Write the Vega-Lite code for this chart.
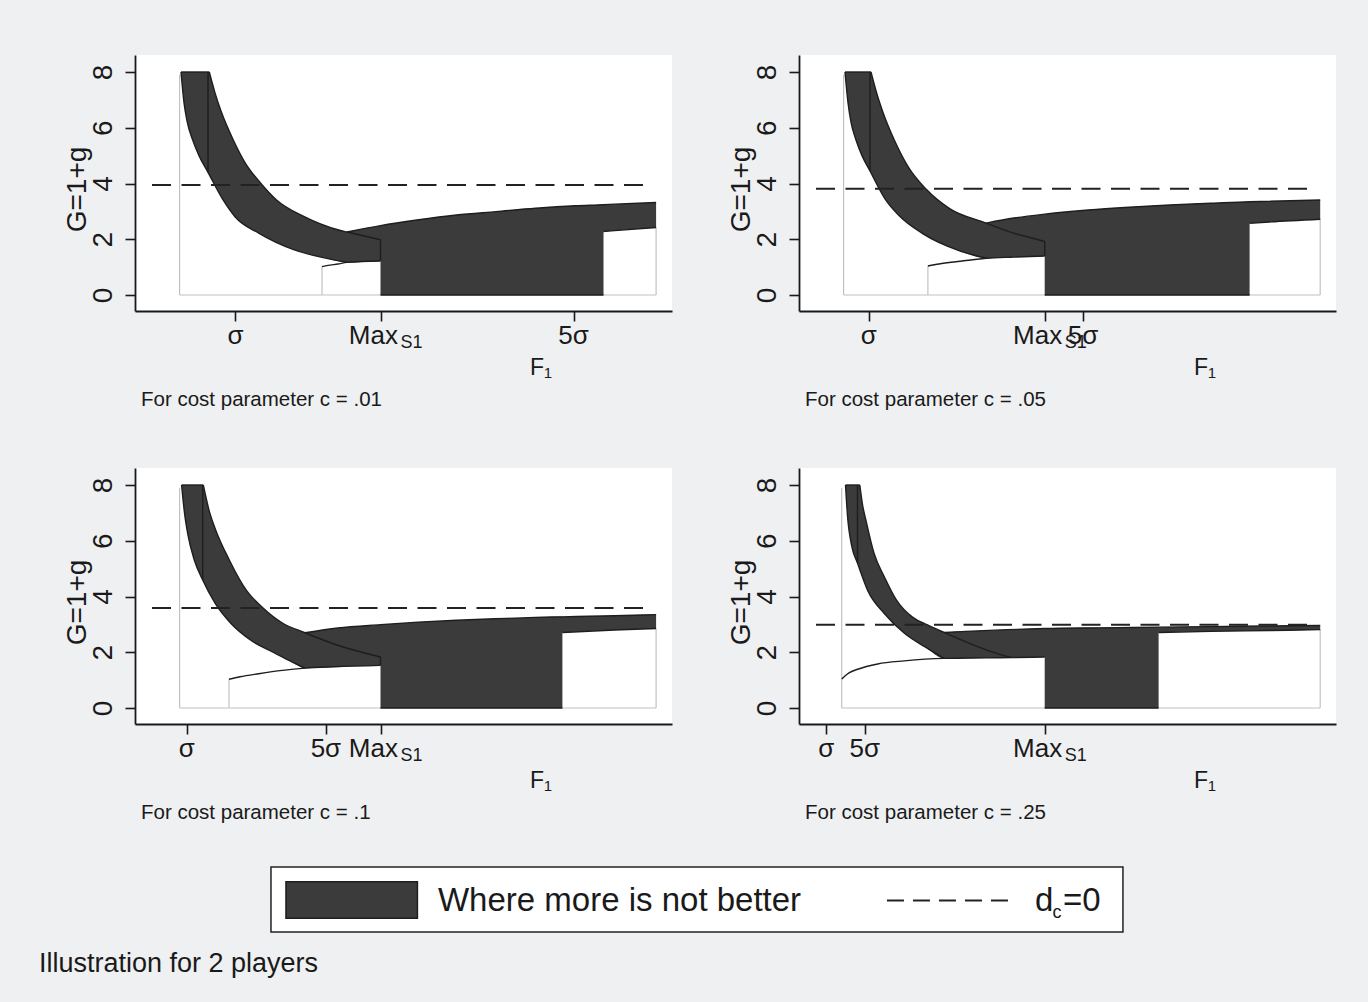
{
"$schema": "https://vega.github.io/schema/vega-lite/v6.json",
"background": "#eff0f2",
"padding": {"left": 38, "top": 55, "right": 40, "bottom": 20},
"autosize": {"type": "pad"},
"bounds": "flush",
"columns": 2,
"spacing": {"row": 157, "column": 127},
"datasets": {
"seg": [
{"p":"a","k":"gray","x":44.6,"y":0,"x2":44.6,"y2":7.9},
{"p":"a","k":"gray","x":44.6,"y":0,"x2":521.1,"y2":0},
{"p":"a","k":"gray","x":187,"y":0,"x2":187,"y2":1.02},
{"p":"a","k":"gray","x":521.1,"y":0,"x2":521.1,"y2":2.42},
{"p":"a","k":"dark","x":73,"y":4.4,"x2":73,"y2":8},
{"p":"a","k":"dark","x":46,"y":8,"x2":74.3,"y2":8},
{"p":"a","k":"dark","x":245.5,"y":1.22,"x2":245.5,"y2":1.98},
{"p":"a","k":"dark","x":245.5,"y":0,"x2":468.5,"y2":0},
{"p":"a","k":"dash","x":17,"y":3.95,"x2":516,"y2":3.95},
{"p":"b","k":"gray","x":44.6,"y":0,"x2":44.6,"y2":7.9},
{"p":"b","k":"gray","x":44.6,"y":0,"x2":521.2,"y2":0},
{"p":"b","k":"gray","x":128.9,"y":0,"x2":128.9,"y2":1.04},
{"p":"b","k":"gray","x":521.2,"y":0,"x2":521.2,"y2":2.72},
{"p":"b","k":"dark","x":71,"y":4.45,"x2":71,"y2":8},
{"p":"b","k":"dark","x":46,"y":8,"x2":72,"y2":8},
{"p":"b","k":"dark","x":245.7,"y":1.4,"x2":245.7,"y2":1.92},
{"p":"b","k":"dark","x":245.7,"y":0,"x2":450.6,"y2":0},
{"p":"b","k":"dash","x":17,"y":3.81,"x2":516,"y2":3.81},
{"p":"c","k":"gray","x":44.6,"y":0,"x2":44.6,"y2":7.9},
{"p":"c","k":"gray","x":44.6,"y":0,"x2":521.1,"y2":0},
{"p":"c","k":"gray","x":94,"y":0,"x2":94,"y2":1.03},
{"p":"c","k":"gray","x":521.1,"y":0,"x2":521.1,"y2":2.85},
{"p":"c","k":"dark","x":67.7,"y":4.59,"x2":67.7,"y2":8},
{"p":"c","k":"dark","x":46.6,"y":8,"x2":68.3,"y2":8},
{"p":"c","k":"dark","x":245.5,"y":1.53,"x2":245.5,"y2":1.83},
{"p":"c","k":"dark","x":245.5,"y":0,"x2":427.4,"y2":0},
{"p":"c","k":"dash","x":17,"y":3.59,"x2":516,"y2":3.59},
{"p":"d","k":"gray","x":42.7,"y":0,"x2":42.7,"y2":7.9},
{"p":"d","k":"gray","x":42.7,"y":0,"x2":521.2,"y2":0},
{"p":"d","k":"gray","x":521.2,"y":0,"x2":521.2,"y2":2.81},
{"p":"d","k":"dark","x":58.5,"y":5.2,"x2":58.5,"y2":8},
{"p":"d","k":"dark","x":46.5,"y":8,"x2":60.8,"y2":8},
{"p":"d","k":"dark","x":245.7,"y":0,"x2":359.6,"y2":0},
{"p":"d","k":"dash","x":17,"y":2.99,"x2":516,"y2":2.99}
],
"area": [
{"p":"a","k":"dec","x":46,"y":8},{"p":"a","k":"dec","x":49,"y":6.9},{"p":"a","k":"dec","x":52,"y":6.25},{"p":"a","k":"dec","x":57.7,"y":5.56},{"p":"a","k":"dec","x":64,"y":5.0},{"p":"a","k":"dec","x":73,"y":4.4},{"p":"a","k":"dec","x":88.1,"y":3.41},{"p":"a","k":"dec","x":100,"y":2.81},{"p":"a","k":"dec","x":123.7,"y":2.22},{"p":"a","k":"dec","x":159.3,"y":1.62},{"p":"a","k":"dec","x":187,"y":1.35},{"p":"a","k":"dec","x":212,"y":1.17},{"p":"a","k":"dec","x":245.5,"y":1.22},
{"p":"a","k":"mask","x":74.3,"y":8},{"p":"a","k":"mask","x":80,"y":7.25},{"p":"a","k":"mask","x":86,"y":6.6},{"p":"a","k":"mask","x":98.3,"y":5.56},{"p":"a","k":"mask","x":110,"y":4.75},{"p":"a","k":"mask","x":125.7,"y":4.01},{"p":"a","k":"mask","x":141.5,"y":3.41},{"p":"a","k":"mask","x":169.2,"y":2.81},{"p":"a","k":"mask","x":202.8,"y":2.34},{"p":"a","k":"mask","x":212,"y":2.26},{"p":"a","k":"mask","x":245.5,"y":1.98},{"p":"a","k":"mask","x":249,"y":1.95},
{"p":"a","k":"rise","x":212,"y":1.17,"y2":2.26},{"p":"a","k":"rise","x":245.5,"y":1.22,"y2":2.49},{"p":"a","k":"rise","x":281.9,"y":1.5,"y2":2.69},{"p":"a","k":"rise","x":321.4,"y":1.75,"y2":2.87},{"p":"a","k":"rise","x":361,"y":1.95,"y2":2.99},{"p":"a","k":"rise","x":400.5,"y":2.1,"y2":3.11},{"p":"a","k":"rise","x":440,"y":2.21,"y2":3.2},{"p":"a","k":"rise","x":468.5,"y":2.28,"y2":3.24},{"p":"a","k":"rise","x":479.6,"y":2.31,"y2":3.26},{"p":"a","k":"rise","x":521.1,"y":2.42,"y2":3.32},
{"p":"a","k":"block","x":245.5,"y":0,"y2":2.49},{"p":"a","k":"block","x":281.9,"y":0,"y2":2.69},{"p":"a","k":"block","x":321.4,"y":0,"y2":2.87},{"p":"a","k":"block","x":361,"y":0,"y2":2.99},{"p":"a","k":"block","x":400.5,"y":0,"y2":3.11},{"p":"a","k":"block","x":440,"y":0,"y2":3.2},{"p":"a","k":"block","x":468.5,"y":0,"y2":3.24},
{"p":"b","k":"dec","x":46,"y":8},{"p":"b","k":"dec","x":49,"y":6.9},{"p":"b","k":"dec","x":52,"y":6.2},{"p":"b","k":"dec","x":57,"y":5.56},{"p":"b","k":"dec","x":63,"y":5.0},{"p":"b","k":"dec","x":71,"y":4.45},{"p":"b","k":"dec","x":86,"y":3.45},{"p":"b","k":"dec","x":100,"y":2.85},{"p":"b","k":"dec","x":123.7,"y":2.2},{"p":"b","k":"dec","x":159.3,"y":1.6},{"p":"b","k":"dec","x":187.3,"y":1.32},{"p":"b","k":"dec","x":215,"y":1.36},{"p":"b","k":"dec","x":245.7,"y":1.4},
{"p":"b","k":"mask","x":72,"y":8},{"p":"b","k":"mask","x":78,"y":7.2},{"p":"b","k":"mask","x":84,"y":6.55},{"p":"b","k":"mask","x":95.3,"y":5.56},{"p":"b","k":"mask","x":110,"y":4.55},{"p":"b","k":"mask","x":127,"y":3.8},{"p":"b","k":"mask","x":150.6,"y":3.1},{"p":"b","k":"mask","x":187.3,"y":2.58},{"p":"b","k":"mask","x":207.7,"y":2.3},{"p":"b","k":"mask","x":245.7,"y":1.92},{"p":"b","k":"mask","x":249,"y":1.89},
{"p":"b","k":"rise","x":187.3,"y":1.32,"y2":2.58},{"p":"b","k":"rise","x":215,"y":1.36,"y2":2.76},{"p":"b","k":"rise","x":245.7,"y":1.4,"y2":2.9},{"p":"b","k":"rise","x":289.3,"y":1.8,"y2":3.05},{"p":"b","k":"rise","x":330.2,"y":2.1,"y2":3.15},{"p":"b","k":"rise","x":371,"y":2.3,"y2":3.23},{"p":"b","k":"rise","x":411.8,"y":2.45,"y2":3.29},{"p":"b","k":"rise","x":450.6,"y":2.57,"y2":3.345},{"p":"b","k":"rise","x":470,"y":2.62,"y2":3.36},{"p":"b","k":"rise","x":521.2,"y":2.72,"y2":3.41},
{"p":"b","k":"block","x":245.7,"y":0,"y2":2.9},{"p":"b","k":"block","x":289.3,"y":0,"y2":3.05},{"p":"b","k":"block","x":330.2,"y":0,"y2":3.15},{"p":"b","k":"block","x":371,"y":0,"y2":3.23},{"p":"b","k":"block","x":411.8,"y":0,"y2":3.29},{"p":"b","k":"block","x":450.6,"y":0,"y2":3.345},
{"p":"c","k":"dec","x":46.6,"y":8},{"p":"c","k":"dec","x":49.5,"y":7.0},{"p":"c","k":"dec","x":53,"y":6.2},{"p":"c","k":"dec","x":59.3,"y":5.31},{"p":"c","k":"dec","x":67.7,"y":4.59},{"p":"c","k":"dec","x":80.2,"y":3.75},{"p":"c","k":"dec","x":96,"y":3.03},{"p":"c","k":"dec","x":115.8,"y":2.43},{"p":"c","k":"dec","x":139.5,"y":1.98},{"p":"c","k":"dec","x":155,"y":1.69},{"p":"c","k":"dec","x":170,"y":1.43},{"p":"c","k":"dec","x":200,"y":1.48},{"p":"c","k":"dec","x":245.5,"y":1.53},
{"p":"c","k":"mask","x":68.3,"y":8},{"p":"c","k":"mask","x":74,"y":7.1},{"p":"c","k":"mask","x":80,"y":6.45},{"p":"c","k":"mask","x":94.3,"y":5.31},{"p":"c","k":"mask","x":111.8,"y":4.2},{"p":"c","k":"mask","x":128,"y":3.59},{"p":"c","k":"mask","x":147.4,"y":3.05},{"p":"c","k":"mask","x":170,"y":2.7},{"p":"c","k":"mask","x":202.8,"y":2.25},{"p":"c","k":"mask","x":245.5,"y":1.83},{"p":"c","k":"mask","x":249,"y":1.8},
{"p":"c","k":"rise","x":170,"y":1.43,"y2":2.7},{"p":"c","k":"rise","x":202.8,"y":1.48,"y2":2.87},{"p":"c","k":"rise","x":245.5,"y":1.53,"y2":2.99},{"p":"c","k":"rise","x":283,"y":1.9,"y2":3.08},{"p":"c","k":"rise","x":321.4,"y":2.2,"y2":3.15},{"p":"c","k":"rise","x":360,"y":2.45,"y2":3.2},{"p":"c","k":"rise","x":400.5,"y":2.62,"y2":3.25},{"p":"c","k":"rise","x":427.4,"y":2.71,"y2":3.27},{"p":"c","k":"rise","x":479.6,"y":2.8,"y2":3.31},{"p":"c","k":"rise","x":521.1,"y":2.85,"y2":3.35},
{"p":"c","k":"block","x":245.5,"y":0,"y2":2.99},{"p":"c","k":"block","x":283,"y":0,"y2":3.08},{"p":"c","k":"block","x":321.4,"y":0,"y2":3.15},{"p":"c","k":"block","x":360,"y":0,"y2":3.2},{"p":"c","k":"block","x":400.5,"y":0,"y2":3.25},{"p":"c","k":"block","x":427.4,"y":0,"y2":3.27},
{"p":"d","k":"dec","x":46.5,"y":8},{"p":"d","k":"dec","x":48.5,"y":6.9},{"p":"d","k":"dec","x":52.8,"y":5.8},{"p":"d","k":"dec","x":58.5,"y":5.2},{"p":"d","k":"dec","x":68.9,"y":4.2},{"p":"d","k":"dec","x":85.3,"y":3.39},{"p":"d","k":"dec","x":105.7,"y":2.67},{"p":"d","k":"dec","x":126.1,"y":2.19},{"p":"d","k":"dec","x":145,"y":1.78},{"p":"d","k":"dec","x":166.9,"y":1.79},{"p":"d","k":"dec","x":187.3,"y":1.8},{"p":"d","k":"dec","x":212,"y":1.81},
{"p":"d","k":"mask","x":60.8,"y":8},{"p":"d","k":"mask","x":63.5,"y":7.3},{"p":"d","k":"mask","x":66.9,"y":6.74},{"p":"d","k":"mask","x":75.1,"y":5.54},{"p":"d","k":"mask","x":85.3,"y":4.71},{"p":"d","k":"mask","x":97.5,"y":3.87},{"p":"d","k":"mask","x":113.8,"y":3.25},{"p":"d","k":"mask","x":129,"y":2.97},{"p":"d","k":"mask","x":145,"y":2.71},{"p":"d","k":"mask","x":166.9,"y":2.37},{"p":"d","k":"mask","x":190,"y":2.05},{"p":"d","k":"mask","x":212,"y":1.81},{"p":"d","k":"mask","x":215.5,"y":1.78},
{"p":"d","k":"rise","x":145,"y":1.78,"y2":2.71},{"p":"d","k":"rise","x":166.9,"y":1.79,"y2":2.75},{"p":"d","k":"rise","x":207.7,"y":1.81,"y2":2.81},{"p":"d","k":"rise","x":245.7,"y":1.83,"y2":2.85},{"p":"d","k":"rise","x":300,"y":2.3,"y2":2.875},{"p":"d","k":"rise","x":359.6,"y":2.71,"y2":2.9},{"p":"d","k":"rise","x":411.8,"y":2.75,"y2":2.92},{"p":"d","k":"rise","x":470,"y":2.78,"y2":2.94},{"p":"d","k":"rise","x":521.2,"y":2.81,"y2":2.96},
{"p":"d","k":"block","x":245.7,"y":0,"y2":2.85},{"p":"d","k":"block","x":300,"y":0,"y2":2.875},{"p":"d","k":"block","x":359.6,"y":0,"y2":2.9}
],
"line": [
{"p":"a","k":"U","x":74.3,"y":8},{"p":"a","k":"U","x":80,"y":7.25},{"p":"a","k":"U","x":86,"y":6.6},{"p":"a","k":"U","x":98.3,"y":5.56},{"p":"a","k":"U","x":110,"y":4.75},{"p":"a","k":"U","x":125.7,"y":4.01},{"p":"a","k":"U","x":141.5,"y":3.41},{"p":"a","k":"U","x":169.2,"y":2.81},{"p":"a","k":"U","x":202.8,"y":2.34},{"p":"a","k":"U","x":212,"y":2.26},{"p":"a","k":"U","x":245.5,"y":1.98},
{"p":"a","k":"L","x":46,"y":8},{"p":"a","k":"L","x":49,"y":6.9},{"p":"a","k":"L","x":52,"y":6.25},{"p":"a","k":"L","x":57.7,"y":5.56},{"p":"a","k":"L","x":64,"y":5.0},{"p":"a","k":"L","x":73,"y":4.4},{"p":"a","k":"L","x":88.1,"y":3.41},{"p":"a","k":"L","x":100,"y":2.81},{"p":"a","k":"L","x":123.7,"y":2.22},{"p":"a","k":"L","x":159.3,"y":1.62},{"p":"a","k":"L","x":187,"y":1.35},{"p":"a","k":"L","x":212,"y":1.17},
{"p":"a","k":"RL1","x":187,"y":1.02},{"p":"a","k":"RL1","x":195,"y":1.07},{"p":"a","k":"RL1","x":202.8,"y":1.11},{"p":"a","k":"RL1","x":212,"y":1.17},{"p":"a","k":"RL1","x":245.5,"y":1.22},
{"p":"a","k":"RL2","x":468.5,"y":2.28},{"p":"a","k":"RL2","x":479.6,"y":2.31},{"p":"a","k":"RL2","x":521.1,"y":2.42},
{"p":"a","k":"RU","x":212,"y":2.26},{"p":"a","k":"RU","x":245.5,"y":2.49},{"p":"a","k":"RU","x":281.9,"y":2.69},{"p":"a","k":"RU","x":321.4,"y":2.87},{"p":"a","k":"RU","x":361,"y":2.99},{"p":"a","k":"RU","x":400.5,"y":3.11},{"p":"a","k":"RU","x":440,"y":3.2},{"p":"a","k":"RU","x":468.5,"y":3.24},{"p":"a","k":"RU","x":479.6,"y":3.26},{"p":"a","k":"RU","x":521.1,"y":3.32},
{"p":"b","k":"U","x":72,"y":8},{"p":"b","k":"U","x":78,"y":7.2},{"p":"b","k":"U","x":84,"y":6.55},{"p":"b","k":"U","x":95.3,"y":5.56},{"p":"b","k":"U","x":110,"y":4.55},{"p":"b","k":"U","x":127,"y":3.8},{"p":"b","k":"U","x":150.6,"y":3.1},{"p":"b","k":"U","x":187.3,"y":2.58},{"p":"b","k":"U","x":207.7,"y":2.3},{"p":"b","k":"U","x":245.7,"y":1.92},
{"p":"b","k":"L","x":46,"y":8},{"p":"b","k":"L","x":49,"y":6.9},{"p":"b","k":"L","x":52,"y":6.2},{"p":"b","k":"L","x":57,"y":5.56},{"p":"b","k":"L","x":63,"y":5.0},{"p":"b","k":"L","x":71,"y":4.45},{"p":"b","k":"L","x":86,"y":3.45},{"p":"b","k":"L","x":100,"y":2.85},{"p":"b","k":"L","x":123.7,"y":2.2},{"p":"b","k":"L","x":159.3,"y":1.6},{"p":"b","k":"L","x":187.3,"y":1.32},
{"p":"b","k":"RL1","x":128.9,"y":1.04},{"p":"b","k":"RL1","x":140,"y":1.11},{"p":"b","k":"RL1","x":158.7,"y":1.2},{"p":"b","k":"RL1","x":187.3,"y":1.32},{"p":"b","k":"RL1","x":215,"y":1.36},{"p":"b","k":"RL1","x":245.7,"y":1.4},
{"p":"b","k":"RL2","x":450.6,"y":2.57},{"p":"b","k":"RL2","x":470,"y":2.62},{"p":"b","k":"RL2","x":521.2,"y":2.72},
{"p":"b","k":"RU","x":187.3,"y":2.58},{"p":"b","k":"RU","x":215,"y":2.76},{"p":"b","k":"RU","x":245.7,"y":2.9},{"p":"b","k":"RU","x":289.3,"y":3.05},{"p":"b","k":"RU","x":330.2,"y":3.15},{"p":"b","k":"RU","x":371,"y":3.23},{"p":"b","k":"RU","x":411.8,"y":3.29},{"p":"b","k":"RU","x":450.6,"y":3.345},{"p":"b","k":"RU","x":470,"y":3.36},{"p":"b","k":"RU","x":521.2,"y":3.41},
{"p":"c","k":"U","x":68.3,"y":8},{"p":"c","k":"U","x":74,"y":7.1},{"p":"c","k":"U","x":80,"y":6.45},{"p":"c","k":"U","x":94.3,"y":5.31},{"p":"c","k":"U","x":111.8,"y":4.2},{"p":"c","k":"U","x":128,"y":3.59},{"p":"c","k":"U","x":147.4,"y":3.05},{"p":"c","k":"U","x":170,"y":2.7},{"p":"c","k":"U","x":202.8,"y":2.25},{"p":"c","k":"U","x":245.5,"y":1.83},
{"p":"c","k":"L","x":46.6,"y":8},{"p":"c","k":"L","x":49.5,"y":7.0},{"p":"c","k":"L","x":53,"y":6.2},{"p":"c","k":"L","x":59.3,"y":5.31},{"p":"c","k":"L","x":67.7,"y":4.59},{"p":"c","k":"L","x":80.2,"y":3.75},{"p":"c","k":"L","x":96,"y":3.03},{"p":"c","k":"L","x":115.8,"y":2.43},{"p":"c","k":"L","x":139.5,"y":1.98},{"p":"c","k":"L","x":155,"y":1.69},{"p":"c","k":"L","x":170,"y":1.43},
{"p":"c","k":"RL1","x":94,"y":1.03},{"p":"c","k":"RL1","x":105,"y":1.12},{"p":"c","k":"RL1","x":123.7,"y":1.23},{"p":"c","k":"RL1","x":147.4,"y":1.35},{"p":"c","k":"RL1","x":170,"y":1.43},{"p":"c","k":"RL1","x":200,"y":1.48},{"p":"c","k":"RL1","x":245.5,"y":1.53},
{"p":"c","k":"RL2","x":427.4,"y":2.71},{"p":"c","k":"RL2","x":479.6,"y":2.8},{"p":"c","k":"RL2","x":521.1,"y":2.85},
{"p":"c","k":"RU","x":170,"y":2.7},{"p":"c","k":"RU","x":202.8,"y":2.87},{"p":"c","k":"RU","x":245.5,"y":2.99},{"p":"c","k":"RU","x":283,"y":3.08},{"p":"c","k":"RU","x":321.4,"y":3.15},{"p":"c","k":"RU","x":360,"y":3.2},{"p":"c","k":"RU","x":400.5,"y":3.25},{"p":"c","k":"RU","x":427.4,"y":3.27},{"p":"c","k":"RU","x":479.6,"y":3.31},{"p":"c","k":"RU","x":521.1,"y":3.35},
{"p":"d","k":"U","x":60.8,"y":8},{"p":"d","k":"U","x":63.5,"y":7.3},{"p":"d","k":"U","x":66.9,"y":6.74},{"p":"d","k":"U","x":75.1,"y":5.54},{"p":"d","k":"U","x":85.3,"y":4.71},{"p":"d","k":"U","x":97.5,"y":3.87},{"p":"d","k":"U","x":113.8,"y":3.25},{"p":"d","k":"U","x":129,"y":2.97},{"p":"d","k":"U","x":145,"y":2.71},{"p":"d","k":"U","x":166.9,"y":2.37},{"p":"d","k":"U","x":190,"y":2.05},{"p":"d","k":"U","x":212,"y":1.81},
{"p":"d","k":"L","x":46.5,"y":8},{"p":"d","k":"L","x":48.5,"y":6.9},{"p":"d","k":"L","x":52.8,"y":5.8},{"p":"d","k":"L","x":58.5,"y":5.2},{"p":"d","k":"L","x":68.9,"y":4.2},{"p":"d","k":"L","x":85.3,"y":3.39},{"p":"d","k":"L","x":105.7,"y":2.67},{"p":"d","k":"L","x":126.1,"y":2.19},{"p":"d","k":"L","x":145,"y":1.78},
{"p":"d","k":"RL1","x":42.7,"y":1.04},{"p":"d","k":"RL1","x":46,"y":1.15},{"p":"d","k":"RL1","x":50,"y":1.26},{"p":"d","k":"RL1","x":58.7,"y":1.39},{"p":"d","k":"RL1","x":78.7,"y":1.58},{"p":"d","k":"RL1","x":105.3,"y":1.69},{"p":"d","k":"RL1","x":145,"y":1.78},{"p":"d","k":"RL1","x":187.3,"y":1.8},{"p":"d","k":"RL1","x":212,"y":1.81},{"p":"d","k":"RL1","x":245.7,"y":1.83},
{"p":"d","k":"RL2","x":359.6,"y":2.71},{"p":"d","k":"RL2","x":411.8,"y":2.75},{"p":"d","k":"RL2","x":470,"y":2.78},{"p":"d","k":"RL2","x":521.2,"y":2.81},
{"p":"d","k":"RU","x":145,"y":2.71},{"p":"d","k":"RU","x":166.9,"y":2.75},{"p":"d","k":"RU","x":207.7,"y":2.81},{"p":"d","k":"RU","x":245.7,"y":2.85},{"p":"d","k":"RU","x":300,"y":2.875},{"p":"d","k":"RU","x":359.6,"y":2.9},{"p":"d","k":"RU","x":411.8,"y":2.92},{"p":"d","k":"RU","x":470,"y":2.94},{"p":"d","k":"RU","x":521.2,"y":2.96}
],
"lab": [
{"p":"a","k":"tick","t":"σ","x":100.4,"y":-1.77},{"p":"a","k":"tick","t":"Max","x":238.4,"y":-1.77},{"p":"a","k":"tick","t":"5σ","x":438.5,"y":-1.77},{"p":"a","k":"sub","t":"S1","x":276.5,"y":-1.9},{"p":"a","k":"F","t":"F","x":402,"y":-2.87},{"p":"a","k":"fs","t":"1","x":413,"y":-2.98},{"p":"a","k":"cap","t":"For cost parameter c = .01","x":6,"y":-4.0},
{"p":"b","k":"tick","t":"σ","x":69.8,"y":-1.77},{"p":"b","k":"tick","t":"Max","x":238.6,"y":-1.77},{"p":"b","k":"tick","t":"5σ","x":284,"y":-1.77},{"p":"b","k":"sub","t":"S1","x":276.7,"y":-1.9},{"p":"b","k":"F","t":"F","x":402,"y":-2.87},{"p":"b","k":"fs","t":"1","x":413,"y":-2.98},{"p":"b","k":"cap","t":"For cost parameter c = .05","x":6,"y":-4.0},
{"p":"c","k":"tick","t":"σ","x":51.7,"y":-1.77},{"p":"c","k":"tick","t":"Max","x":238.4,"y":-1.77},{"p":"c","k":"tick","t":"5σ","x":190.9,"y":-1.77},{"p":"c","k":"sub","t":"S1","x":276.5,"y":-1.9},{"p":"c","k":"F","t":"F","x":402,"y":-2.87},{"p":"c","k":"fs","t":"1","x":413,"y":-2.98},{"p":"c","k":"cap","t":"For cost parameter c = .1","x":6,"y":-4.0},
{"p":"d","k":"tick","t":"σ","x":27.3,"y":-1.77},{"p":"d","k":"tick","t":"Max","x":238.6,"y":-1.77},{"p":"d","k":"tick","t":"5σ","x":65.7,"y":-1.77},{"p":"d","k":"sub","t":"S1","x":276.7,"y":-1.9},{"p":"d","k":"F","t":"F","x":402,"y":-2.87},{"p":"d","k":"fs","t":"1","x":413,"y":-2.98},{"p":"d","k":"cap","t":"For cost parameter c = .25","x":6,"y":-4.0}
],
"leg": [
{"k":"box","x":0,"x2":1,"y":0,"y2":1},
{"k":"sw","x":0.0176,"x2":0.1719,"y":0.226,"y2":0.789},
{"k":"dash","x":0.723,"x2":0.873,"y":0.515,"y2":0.515},
{"k":"big","t":"Where more is not better","x":0.196,"y":0.677},
{"k":"big","t":"d","x":0.8967,"y":0.677},
{"k":"big","t":"=0","x":0.9296,"y":0.677},
{"k":"small","t":"c","x":0.9173,"y":0.785},
{"k":"ill","t":"Illustration for 2 players","x":-0.2723,"y":1.615}
]
},
"concat": [
{"width":537,"height":256,
 "encoding":{"x":{"field":"x","type":"quantitative","scale":{"domain":[0,537],"nice":false,"zero":false},"axis":{"values":[100.4,245.5,438.5],"labels":false,"title":null,"tickSize":10,"grid":false}},
  "y":{"field":"y","type":"quantitative","scale":{"domain":[-0.574,8.61],"nice":false,"zero":false},"axis":{"values":[0,2,4,6,8],"title":"G=1+g","grid":false,"tickSize":10,"labelAngle":270,"labelAlign":"center","labelBaseline":"alphabetic","labelPadding":14,"titleAngle":270,"titleAlign":"center","titleBaseline":"alphabetic","titleX":-50,"titleY":134}}},
 "layer":[
{"data":{"name":"seg"},"transform":[{"filter":"datum.p=='a' && datum.k=='gray'"}],"mark":{"type":"rule","color":"#c2c2c2","strokeWidth":1.2},"encoding":{"x2":{"field":"x2"},"y2":{"field":"y2"}}},
{"data":{"name":"area"},"transform":[{"filter":"datum.p=='a' && datum.k=='dec'"}],"mark":{"type":"area","interpolate":"monotone","color":"#3b3b3b"},"encoding":{"y2":{"datum":8}}},
{"data":{"name":"area"},"transform":[{"filter":"datum.p=='a' && datum.k=='mask'"}],"mark":{"type":"area","interpolate":"monotone","color":"white"},"encoding":{"y2":{"datum":8.61}}},
{"data":{"name":"area"},"transform":[{"filter":"datum.p=='a' && (datum.k=='rise' || datum.k=='block')"}],"mark":{"type":"area","interpolate":"monotone","color":"#3b3b3b"},"encoding":{"y2":{"field":"y2"},"detail":{"field":"k"}}},
{"data":{"name":"line"},"transform":[{"filter":"datum.p=='a'"}],"mark":{"type":"line","interpolate":"monotone","color":"#1e1e1e","strokeWidth":1.4},"encoding":{"detail":{"field":"k"}}},
{"data":{"name":"seg"},"transform":[{"filter":"datum.p=='a' && datum.k=='dark'"}],"mark":{"type":"rule","color":"#1e1e1e","strokeWidth":1.4},"encoding":{"x2":{"field":"x2"},"y2":{"field":"y2"}}},
{"data":{"name":"seg"},"transform":[{"filter":"datum.p=='a' && datum.k=='dash'"}],"mark":{"type":"rule","color":"#222222","strokeWidth":2,"strokeDash":[19,10.5]},"encoding":{"x2":{"field":"x2"}}},
{"data":{"name":"lab"},"transform":[{"filter":"datum.p=='a' && datum.k=='tick'"}],"mark":{"type":"text","align":"center","baseline":"alphabetic","fontSize":26,"color":"#1a1a1a"},"encoding":{"text":{"field":"t"}}},
{"data":{"name":"lab"},"transform":[{"filter":"datum.p=='a' && datum.k=='sub'"}],"mark":{"type":"text","align":"center","baseline":"alphabetic","fontSize":18,"color":"#1a1a1a"},"encoding":{"text":{"field":"t"}}},
{"data":{"name":"lab"},"transform":[{"filter":"datum.p=='a' && datum.k=='F'"}],"mark":{"type":"text","align":"center","baseline":"alphabetic","fontSize":23,"color":"#1a1a1a"},"encoding":{"text":{"field":"t"}}},
{"data":{"name":"lab"},"transform":[{"filter":"datum.p=='a' && datum.k=='fs'"}],"mark":{"type":"text","align":"center","baseline":"alphabetic","fontSize":15,"color":"#1a1a1a"},"encoding":{"text":{"field":"t"}}},
{"data":{"name":"lab"},"transform":[{"filter":"datum.p=='a' && datum.k=='cap'"}],"mark":{"type":"text","align":"left","baseline":"alphabetic","fontSize":20.5,"color":"#1a1a1a"},"encoding":{"text":{"field":"t"}}}
]},
{"width":537,"height":256,
 "encoding":{"x":{"field":"x","type":"quantitative","scale":{"domain":[0,537],"nice":false,"zero":false},"axis":{"values":[69.8,245.7,284],"labels":false,"title":null,"tickSize":10,"grid":false}},
  "y":{"field":"y","type":"quantitative","scale":{"domain":[-0.574,8.61],"nice":false,"zero":false},"axis":{"values":[0,2,4,6,8],"title":"G=1+g","grid":false,"tickSize":10,"labelAngle":270,"labelAlign":"center","labelBaseline":"alphabetic","labelPadding":14,"titleAngle":270,"titleAlign":"center","titleBaseline":"alphabetic","titleX":-50,"titleY":134}}},
 "layer":[
{"data":{"name":"seg"},"transform":[{"filter":"datum.p=='b' && datum.k=='gray'"}],"mark":{"type":"rule","color":"#c2c2c2","strokeWidth":1.2},"encoding":{"x2":{"field":"x2"},"y2":{"field":"y2"}}},
{"data":{"name":"area"},"transform":[{"filter":"datum.p=='b' && datum.k=='dec'"}],"mark":{"type":"area","interpolate":"monotone","color":"#3b3b3b"},"encoding":{"y2":{"datum":8}}},
{"data":{"name":"area"},"transform":[{"filter":"datum.p=='b' && datum.k=='mask'"}],"mark":{"type":"area","interpolate":"monotone","color":"white"},"encoding":{"y2":{"datum":8.61}}},
{"data":{"name":"area"},"transform":[{"filter":"datum.p=='b' && (datum.k=='rise' || datum.k=='block')"}],"mark":{"type":"area","interpolate":"monotone","color":"#3b3b3b"},"encoding":{"y2":{"field":"y2"},"detail":{"field":"k"}}},
{"data":{"name":"line"},"transform":[{"filter":"datum.p=='b'"}],"mark":{"type":"line","interpolate":"monotone","color":"#1e1e1e","strokeWidth":1.4},"encoding":{"detail":{"field":"k"}}},
{"data":{"name":"seg"},"transform":[{"filter":"datum.p=='b' && datum.k=='dark'"}],"mark":{"type":"rule","color":"#1e1e1e","strokeWidth":1.4},"encoding":{"x2":{"field":"x2"},"y2":{"field":"y2"}}},
{"data":{"name":"seg"},"transform":[{"filter":"datum.p=='b' && datum.k=='dash'"}],"mark":{"type":"rule","color":"#222222","strokeWidth":2,"strokeDash":[19,10.5]},"encoding":{"x2":{"field":"x2"}}},
{"data":{"name":"lab"},"transform":[{"filter":"datum.p=='b' && datum.k=='tick'"}],"mark":{"type":"text","align":"center","baseline":"alphabetic","fontSize":26,"color":"#1a1a1a"},"encoding":{"text":{"field":"t"}}},
{"data":{"name":"lab"},"transform":[{"filter":"datum.p=='b' && datum.k=='sub'"}],"mark":{"type":"text","align":"center","baseline":"alphabetic","fontSize":18,"color":"#1a1a1a"},"encoding":{"text":{"field":"t"}}},
{"data":{"name":"lab"},"transform":[{"filter":"datum.p=='b' && datum.k=='F'"}],"mark":{"type":"text","align":"center","baseline":"alphabetic","fontSize":23,"color":"#1a1a1a"},"encoding":{"text":{"field":"t"}}},
{"data":{"name":"lab"},"transform":[{"filter":"datum.p=='b' && datum.k=='fs'"}],"mark":{"type":"text","align":"center","baseline":"alphabetic","fontSize":15,"color":"#1a1a1a"},"encoding":{"text":{"field":"t"}}},
{"data":{"name":"lab"},"transform":[{"filter":"datum.p=='b' && datum.k=='cap'"}],"mark":{"type":"text","align":"left","baseline":"alphabetic","fontSize":20.5,"color":"#1a1a1a"},"encoding":{"text":{"field":"t"}}}
]},
{"width":537,"height":256,
 "encoding":{"x":{"field":"x","type":"quantitative","scale":{"domain":[0,537],"nice":false,"zero":false},"axis":{"values":[51.7,190.9,245.5],"labels":false,"title":null,"tickSize":10,"grid":false}},
  "y":{"field":"y","type":"quantitative","scale":{"domain":[-0.574,8.61],"nice":false,"zero":false},"axis":{"values":[0,2,4,6,8],"title":"G=1+g","grid":false,"tickSize":10,"labelAngle":270,"labelAlign":"center","labelBaseline":"alphabetic","labelPadding":14,"titleAngle":270,"titleAlign":"center","titleBaseline":"alphabetic","titleX":-50,"titleY":134}}},
 "layer":[
{"data":{"name":"seg"},"transform":[{"filter":"datum.p=='c' && datum.k=='gray'"}],"mark":{"type":"rule","color":"#c2c2c2","strokeWidth":1.2},"encoding":{"x2":{"field":"x2"},"y2":{"field":"y2"}}},
{"data":{"name":"area"},"transform":[{"filter":"datum.p=='c' && datum.k=='dec'"}],"mark":{"type":"area","interpolate":"monotone","color":"#3b3b3b"},"encoding":{"y2":{"datum":8}}},
{"data":{"name":"area"},"transform":[{"filter":"datum.p=='c' && datum.k=='mask'"}],"mark":{"type":"area","interpolate":"monotone","color":"white"},"encoding":{"y2":{"datum":8.61}}},
{"data":{"name":"area"},"transform":[{"filter":"datum.p=='c' && (datum.k=='rise' || datum.k=='block')"}],"mark":{"type":"area","interpolate":"monotone","color":"#3b3b3b"},"encoding":{"y2":{"field":"y2"},"detail":{"field":"k"}}},
{"data":{"name":"line"},"transform":[{"filter":"datum.p=='c'"}],"mark":{"type":"line","interpolate":"monotone","color":"#1e1e1e","strokeWidth":1.4},"encoding":{"detail":{"field":"k"}}},
{"data":{"name":"seg"},"transform":[{"filter":"datum.p=='c' && datum.k=='dark'"}],"mark":{"type":"rule","color":"#1e1e1e","strokeWidth":1.4},"encoding":{"x2":{"field":"x2"},"y2":{"field":"y2"}}},
{"data":{"name":"seg"},"transform":[{"filter":"datum.p=='c' && datum.k=='dash'"}],"mark":{"type":"rule","color":"#222222","strokeWidth":2,"strokeDash":[19,10.5]},"encoding":{"x2":{"field":"x2"}}},
{"data":{"name":"lab"},"transform":[{"filter":"datum.p=='c' && datum.k=='tick'"}],"mark":{"type":"text","align":"center","baseline":"alphabetic","fontSize":26,"color":"#1a1a1a"},"encoding":{"text":{"field":"t"}}},
{"data":{"name":"lab"},"transform":[{"filter":"datum.p=='c' && datum.k=='sub'"}],"mark":{"type":"text","align":"center","baseline":"alphabetic","fontSize":18,"color":"#1a1a1a"},"encoding":{"text":{"field":"t"}}},
{"data":{"name":"lab"},"transform":[{"filter":"datum.p=='c' && datum.k=='F'"}],"mark":{"type":"text","align":"center","baseline":"alphabetic","fontSize":23,"color":"#1a1a1a"},"encoding":{"text":{"field":"t"}}},
{"data":{"name":"lab"},"transform":[{"filter":"datum.p=='c' && datum.k=='fs'"}],"mark":{"type":"text","align":"center","baseline":"alphabetic","fontSize":15,"color":"#1a1a1a"},"encoding":{"text":{"field":"t"}}},
{"data":{"name":"lab"},"transform":[{"filter":"datum.p=='c' && datum.k=='cap'"}],"mark":{"type":"text","align":"left","baseline":"alphabetic","fontSize":20.5,"color":"#1a1a1a"},"encoding":{"text":{"field":"t"}}}
]},
{"width":537,"height":256,
 "encoding":{"x":{"field":"x","type":"quantitative","scale":{"domain":[0,537],"nice":false,"zero":false},"axis":{"values":[27.3,65.7,245.7],"labels":false,"title":null,"tickSize":10,"grid":false}},
  "y":{"field":"y","type":"quantitative","scale":{"domain":[-0.574,8.61],"nice":false,"zero":false},"axis":{"values":[0,2,4,6,8],"title":"G=1+g","grid":false,"tickSize":10,"labelAngle":270,"labelAlign":"center","labelBaseline":"alphabetic","labelPadding":14,"titleAngle":270,"titleAlign":"center","titleBaseline":"alphabetic","titleX":-50,"titleY":134}}},
 "layer":[
{"data":{"name":"seg"},"transform":[{"filter":"datum.p=='d' && datum.k=='gray'"}],"mark":{"type":"rule","color":"#c2c2c2","strokeWidth":1.2},"encoding":{"x2":{"field":"x2"},"y2":{"field":"y2"}}},
{"data":{"name":"area"},"transform":[{"filter":"datum.p=='d' && datum.k=='dec'"}],"mark":{"type":"area","interpolate":"monotone","color":"#3b3b3b"},"encoding":{"y2":{"datum":8}}},
{"data":{"name":"area"},"transform":[{"filter":"datum.p=='d' && datum.k=='mask'"}],"mark":{"type":"area","interpolate":"monotone","color":"white"},"encoding":{"y2":{"datum":8.61}}},
{"data":{"name":"area"},"transform":[{"filter":"datum.p=='d' && (datum.k=='rise' || datum.k=='block')"}],"mark":{"type":"area","interpolate":"monotone","color":"#3b3b3b"},"encoding":{"y2":{"field":"y2"},"detail":{"field":"k"}}},
{"data":{"name":"line"},"transform":[{"filter":"datum.p=='d'"}],"mark":{"type":"line","interpolate":"monotone","color":"#1e1e1e","strokeWidth":1.4},"encoding":{"detail":{"field":"k"}}},
{"data":{"name":"seg"},"transform":[{"filter":"datum.p=='d' && datum.k=='dark'"}],"mark":{"type":"rule","color":"#1e1e1e","strokeWidth":1.4},"encoding":{"x2":{"field":"x2"},"y2":{"field":"y2"}}},
{"data":{"name":"seg"},"transform":[{"filter":"datum.p=='d' && datum.k=='dash'"}],"mark":{"type":"rule","color":"#222222","strokeWidth":2,"strokeDash":[19,10.5]},"encoding":{"x2":{"field":"x2"}}},
{"data":{"name":"lab"},"transform":[{"filter":"datum.p=='d' && datum.k=='tick'"}],"mark":{"type":"text","align":"center","baseline":"alphabetic","fontSize":26,"color":"#1a1a1a"},"encoding":{"text":{"field":"t"}}},
{"data":{"name":"lab"},"transform":[{"filter":"datum.p=='d' && datum.k=='sub'"}],"mark":{"type":"text","align":"center","baseline":"alphabetic","fontSize":18,"color":"#1a1a1a"},"encoding":{"text":{"field":"t"}}},
{"data":{"name":"lab"},"transform":[{"filter":"datum.p=='d' && datum.k=='F'"}],"mark":{"type":"text","align":"center","baseline":"alphabetic","fontSize":23,"color":"#1a1a1a"},"encoding":{"text":{"field":"t"}}},
{"data":{"name":"lab"},"transform":[{"filter":"datum.p=='d' && datum.k=='fs'"}],"mark":{"type":"text","align":"center","baseline":"alphabetic","fontSize":15,"color":"#1a1a1a"},"encoding":{"text":{"field":"t"}}},
{"data":{"name":"lab"},"transform":[{"filter":"datum.p=='d' && datum.k=='cap'"}],"mark":{"type":"text","align":"left","baseline":"alphabetic","fontSize":20.5,"color":"#1a1a1a"},"encoding":{"text":{"field":"t"}}}
]},
{"width":537,"height":109,"view":{"fill":"transparent","stroke":null},
 "encoding":{"x":{"field":"x","type":"quantitative","scale":{"domain":[-0.1596,0.4707],"nice":false,"zero":false},"axis":null},
  "y":{"field":"y","type":"quantitative","scale":{"domain":[0.2154,1.8923],"nice":false,"zero":false,"reverse":true},"axis":null}},
 "layer":[
{"data":{"name":"leg"},"transform":[{"filter":"datum.k=='box'"}],"mark":{"type":"rect","fill":"white","stroke":"#222222","strokeWidth":1.5},"encoding":{"x2":{"field":"x2"},"y2":{"field":"y2"}}},
{"data":{"name":"leg"},"transform":[{"filter":"datum.k=='sw'"}],"mark":{"type":"rect","fill":"#3b3b3b","stroke":"#1e1e1e","strokeWidth":1.5},"encoding":{"x2":{"field":"x2"},"y2":{"field":"y2"}}},
{"data":{"name":"leg"},"transform":[{"filter":"datum.k=='dash'"}],"mark":{"type":"rule","color":"#222222","strokeWidth":2,"strokeDash":[17,9]},"encoding":{"x2":{"field":"x2"}}},
{"data":{"name":"leg"},"transform":[{"filter":"datum.k=='big'"}],"mark":{"type":"text","align":"left","baseline":"alphabetic","fontSize":33,"color":"#1a1a1a"},"encoding":{"text":{"field":"t"}}},
{"data":{"name":"leg"},"transform":[{"filter":"datum.k=='small'"}],"mark":{"type":"text","align":"left","baseline":"alphabetic","fontSize":18,"color":"#1a1a1a"},"encoding":{"text":{"field":"t"}}},
{"data":{"name":"leg"},"transform":[{"filter":"datum.k=='ill'"}],"mark":{"type":"text","align":"left","baseline":"alphabetic","fontSize":27,"color":"#1a1a1a"},"encoding":{"text":{"field":"t"}}}
]}
],
"config": {
"font": "Liberation Sans",
"view": {"fill": "white", "stroke": null},
"axis": {"domainColor": "#1a1a1a", "domainWidth": 1.8, "tickColor": "#1a1a1a", "tickWidth": 1.6, "labelFont": "Liberation Sans", "labelFontSize": 28, "labelColor": "#1a1a1a", "titleFont": "Liberation Sans", "titleFontSize": 28, "titleFontWeight": "normal", "titleColor": "#1a1a1a", "labelOverlap": false, "labelFlush": false},
"text": {"font": "Liberation Sans", "color": "#1a1a1a"}
}
}
